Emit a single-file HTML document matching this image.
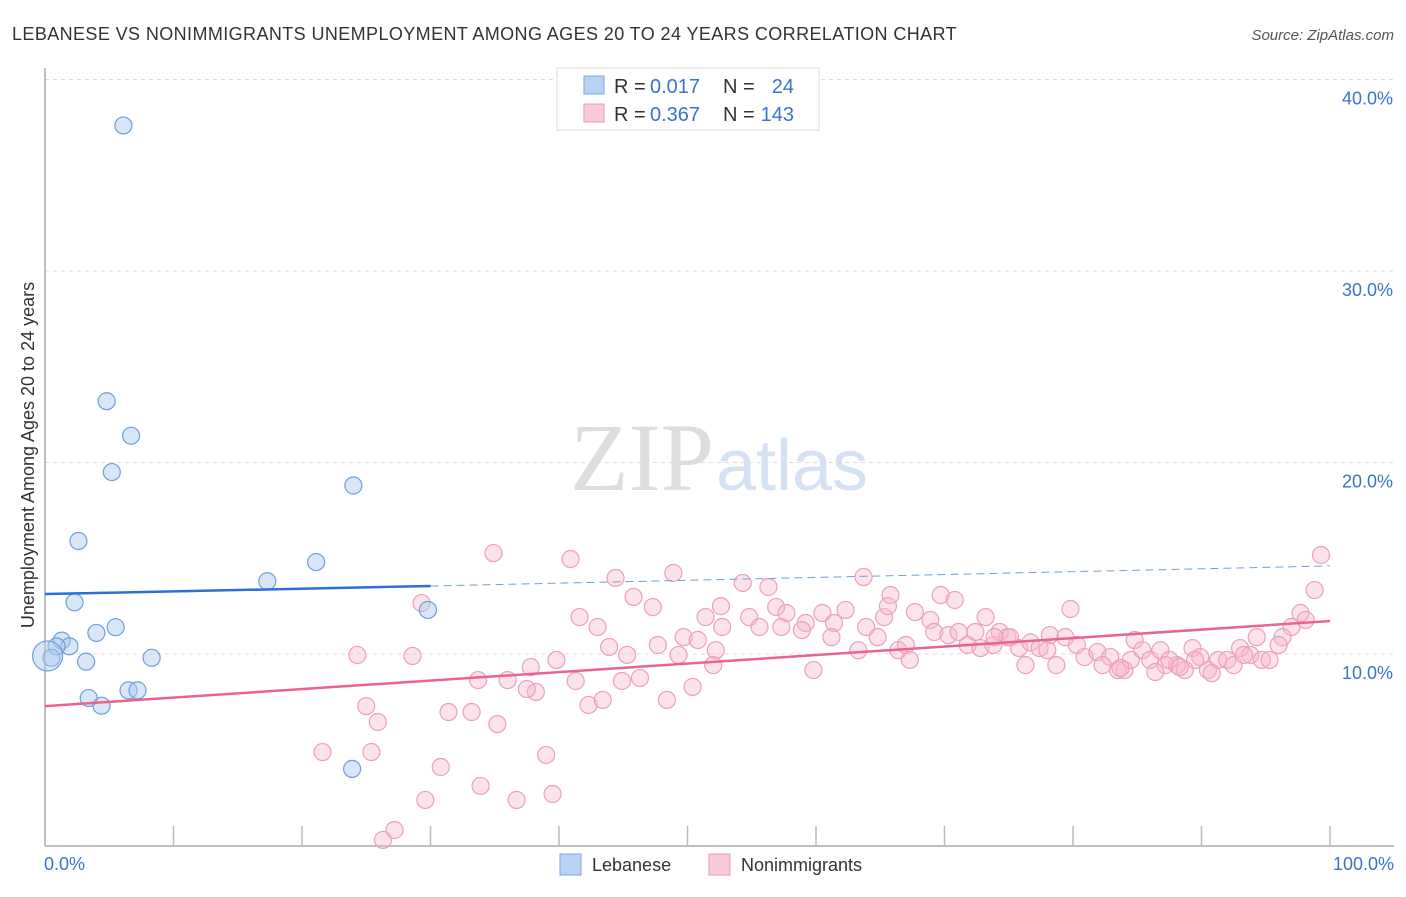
<!DOCTYPE html>
<html><head><meta charset="utf-8"><style>
body{margin:0;background:#fff;font-family:"Liberation Sans",sans-serif}
</style></head><body>
<svg id="chart" width="1406" height="892" xmlns="http://www.w3.org/2000/svg">
<text x="12" y="40" font-size="18" fill="#333" letter-spacing="0.4">LEBANESE VS NONIMMIGRANTS UNEMPLOYMENT AMONG AGES 20 TO 24 YEARS CORRELATION CHART</text>
<text x="1394" y="40" font-size="15" fill="#555" font-style="italic" text-anchor="end">Source: ZipAtlas.com</text>
<text x="714" y="490" font-size="96" fill="#ddd" text-anchor="end" font-family="Liberation Serif">ZIP</text>
<text x="716" y="490" font-size="72" fill="#d4e2f3">atlas</text>
<g id="grid"></g><g id="axes"></g><g id="pts"></g><g id="trends"></g>
<text transform="translate(34,455) rotate(-90)" font-size="18" fill="#333" text-anchor="middle">Unemployment Among Ages 20 to 24 years</text>
<text x="44" y="870" font-size="18" fill="#3a74c9">0.0%</text>
<text x="1394" y="870" font-size="18" fill="#3a74c9" text-anchor="end">100.0%</text>
<g font-size="20">
<rect x="557" y="68" width="262" height="62" fill="#fff" stroke="#ddd"/>
<rect x="584" y="76" width="20" height="18" fill="#b9d2f3" stroke="#7aa7e0"/>
<rect x="584" y="104" width="20" height="18" fill="#fbcad8" stroke="#eb9ab2"/>
<text x="614" y="93" fill="#333">R =</text><text x="650" y="93" fill="#3a74c9">0.017</text>
<text x="723" y="93" fill="#333">N =</text><text x="794" y="93" fill="#3a74c9" text-anchor="end">24</text>
<text x="614" y="121" fill="#333">R =</text><text x="650" y="121" fill="#3a74c9">0.367</text>
<text x="723" y="121" fill="#333">N =</text><text x="794" y="121" fill="#3a74c9" text-anchor="end">143</text>
</g>
<g>
<rect x="560" y="854" width="21" height="21" fill="#b9d2f3" stroke="#7aa7e0"/>
<text x="592" y="871" font-size="18" fill="#333">Lebanese</text>
<rect x="709" y="854" width="21" height="21" fill="#fbcad8" stroke="#eb9ab2"/>
<text x="741" y="871" font-size="18" fill="#333">Nonimmigrants</text>
</g>
</svg>
<script>
const yTicks=[10,20,30,40];
const yTickLabels=["10.0%","20.0%","30.0%","40.0%"];
const blueX=[6.1,4.8,6.7,5.2,24.0,2.6,21.1,17.3,2.3,29.8,5.5,4.0,1.3,1.9,0.9,0.5,3.2,8.3,3.4,4.4,6.5,7.2,23.9,0.2];
const blueY=[37.6,23.2,21.4,19.5,18.8,15.9,14.8,13.8,12.7,12.3,11.4,11.1,10.7,10.4,10.4,9.8,9.6,9.8,7.7,7.3,8.1,8.1,4.0,9.9];
const pinkX=[34.9,40.9,99.3,29.3,44.4,48.9,63.7,54.3,56.3,98.8,45.8,47.3,41.6,43.0,51.4,52.7,54.8,56.9,57.7,59.2,60.5,61.4,62.3,63.9,65.3,65.8,67.7,68.9,69.7,70.8,73.2,79.8,97.7,98.1,97.0,96.3,43.9,45.3,47.7,49.7,50.8,52.2,55.6,57.3,58.9,61.2,63.3,64.8,66.4,67.0,67.3,69.2,70.3,71.1,71.8,72.4,72.8,73.8,74.3,74.9,75.8,76.7,77.4,78.2,79.4,80.3,80.9,81.9,82.9,83.5,84.0,84.8,85.4,86.0,86.8,87.2,88.1,88.7,89.3,89.9,90.5,91.3,92.0,92.5,93.0,93.8,94.3,94.7,95.3,96.0,76.3,78.7,73.9,78.0,87.5,82.3,84.5,90.8,89.5,93.3,24.3,28.6,37.8,39.8,33.7,36.0,38.2,37.5,41.3,44.9,46.3,50.4,52.0,59.8,42.3,43.4,48.4,25.0,25.9,31.4,33.2,35.2,21.6,25.4,39.0,30.8,33.9,36.7,39.5,29.6,27.2,26.3,49.3,52.6,65.6,75.1,83.7,86.4,88.3];
const pinkY=[15.27,14.96,15.17,12.66,13.97,14.23,14.02,13.71,13.5,13.34,12.98,12.45,11.93,11.41,11.93,11.41,11.93,12.45,12.14,11.62,12.14,11.62,12.3,11.41,11.93,13.08,12.19,11.78,13.08,12.82,11.93,12.35,12.14,11.78,11.41,10.88,10.37,9.95,10.47,10.88,10.73,10.2,11.41,11.41,11.25,10.88,10.2,10.88,10.2,10.47,9.69,11.15,10.99,11.15,10.47,11.15,10.31,10.47,11.15,10.88,10.31,10.6,10.31,10.99,10.88,10.47,9.84,10.1,9.84,9.16,9.16,10.73,10.2,9.69,10.2,9.42,9.42,9.16,10.31,9.84,9.16,9.69,9.69,9.42,10.31,9.95,10.88,9.69,9.69,10.47,9.42,9.42,10.88,10.2,9.69,9.42,9.69,9.0,9.69,9.95,9.95,9.9,9.32,9.69,8.64,8.64,8.02,8.17,8.59,8.59,8.75,8.28,9.42,9.16,7.34,7.6,7.6,7.28,6.45,6.97,6.97,6.34,4.88,4.88,4.73,4.1,3.11,2.38,2.69,2.38,0.81,0.29,9.95,12.5,12.5,10.88,9.27,9.06,9.32];
const blueTrend=[13.13,13.55,14.6];
const pinkTrend=[7.28,11.72];
const X0=45,X1=1330,Y0=845.5,PPU=19.15;
const sx=v=>X0+v*(X1-X0)/100;
const sy=v=>Y0-v*PPU;
const NS="http://www.w3.org/2000/svg";
function mk(t,a,p){const e=document.createElementNS(NS,t);for(const k in a)e.setAttribute(k,a[k]);p.appendChild(e);return e;}
const grid=document.getElementById('grid'),axes=document.getElementById('axes'),pts=document.getElementById('pts'),tr=document.getElementById('trends');
yTicks.forEach((t,i)=>{
 const l=mk('line',{x1:X0,x2:1394,y1:sy(t),y2:sy(t),stroke:'#ddd','stroke-dasharray':'4,4'},grid);
 
 
 const tx=mk('text',{x:1393,y:sy(t)+25,'font-size':18,fill:'#3a74c9','text-anchor':'end'},grid);
 tx.textContent=yTickLabels[i];
 
 
});
const ya=mk('line',{x1:X0,x2:X0,y1:68,y2:846,stroke:'#aaa','stroke-width':1.5},axes);


const xa=mk('line',{x1:X0,x2:1394,y1:846,y2:846,stroke:'#aaa','stroke-width':1.5},axes);


for(let i=1;i<=10;i++){const tk=mk('line',{x1:sx(i*10),x2:sx(i*10),y1:826,y2:846,stroke:'#bbb','stroke-width':1.5},axes);
 
 }
pinkX.forEach((x,i)=>{const c=mk('circle',{cx:sx(x),cy:sy(pinkY[i]),r:8.5,fill:'rgba(248,182,202,0.4)',stroke:'#eda0b7','stroke-width':1.2},pts);
 
 });
blueX.forEach((x,i)=>{const c=mk('circle',{cx:sx(x),cy:sy(blueY[i]),r:i==23?15:8.5,fill:'rgba(170,200,240,0.45)',stroke:'#6e9fdc','stroke-width':1.2},pts);
 
 });
const bt=mk('line',{x1:sx(0),y1:sy(blueTrend[0]),x2:sx(30),y2:sy(blueTrend[1]),stroke:'#2a6fd4','stroke-width':2.5},tr);


const bd=mk('line',{x1:sx(30),y1:sy(blueTrend[1]),x2:sx(100),y2:sy(blueTrend[2]),stroke:'#6e9fdc','stroke-width':1,'stroke-dasharray':'8,5'},tr);


const pt=mk('line',{x1:sx(0),y1:sy(pinkTrend[0]),x2:sx(100),y2:sy(pinkTrend[1]),stroke:'#e8648f','stroke-width':2.5},tr);


</script>
</body></html>
